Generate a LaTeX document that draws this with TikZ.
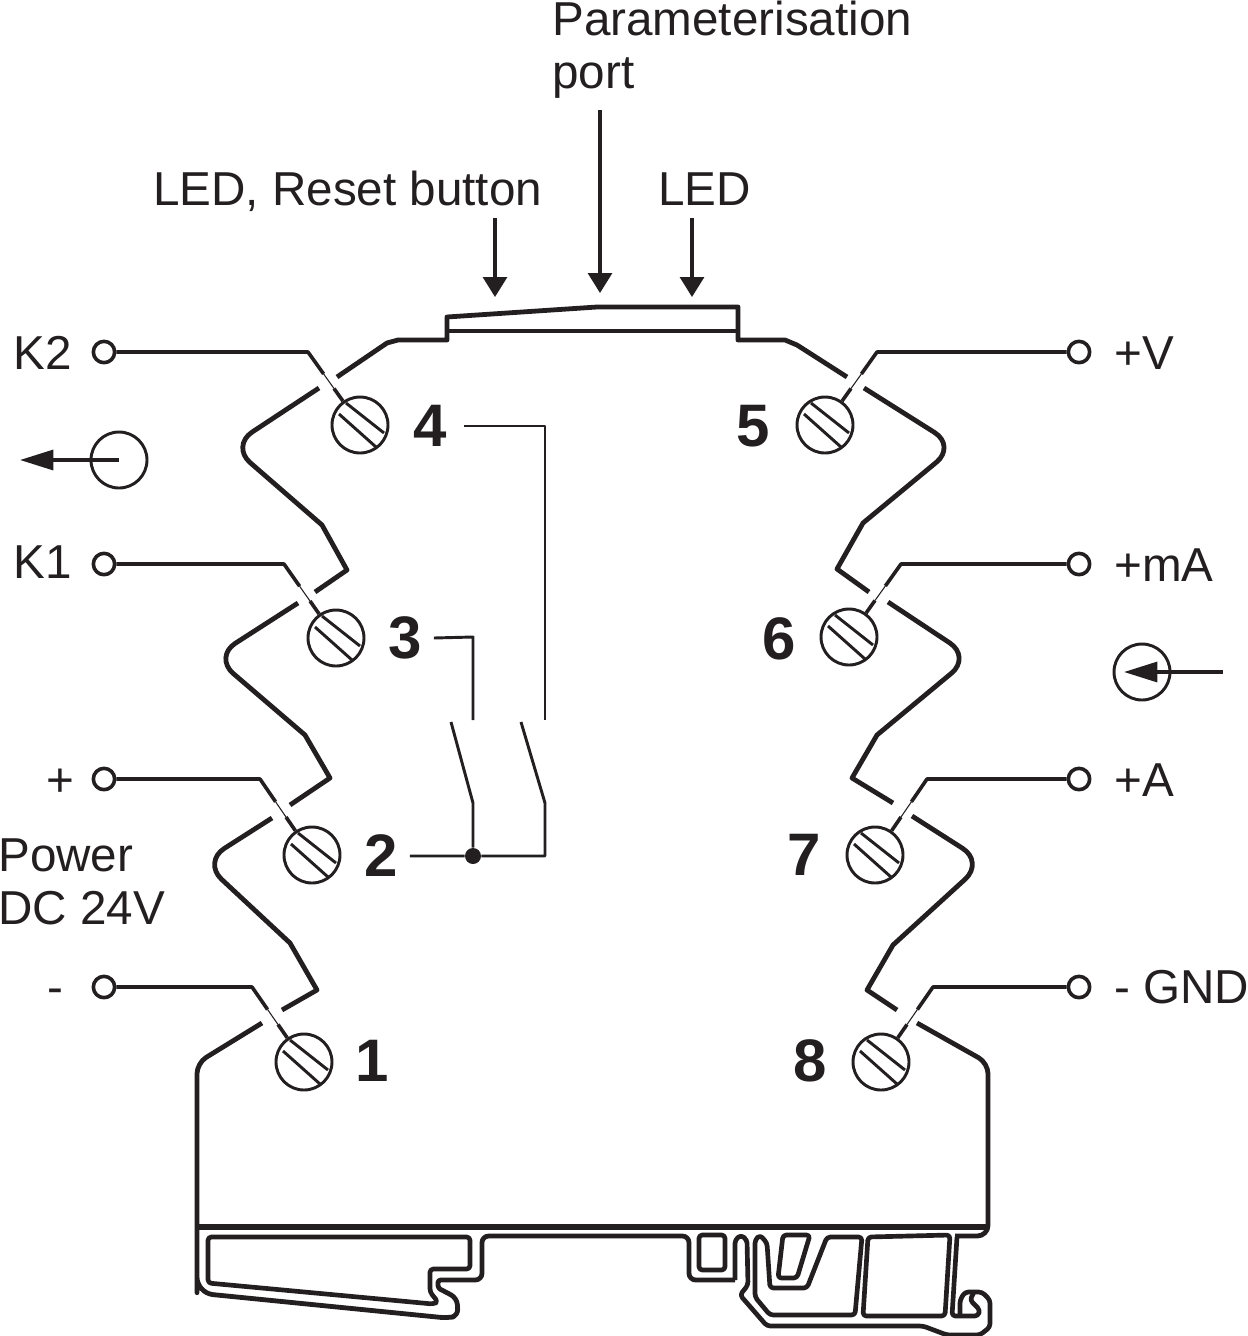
\documentclass[tikz,border=0pt]{standalone}
\usepackage{fontspec}
\setmainfont{Liberation Sans}
\usetikzlibrary{arrows.meta, calc}
\definecolor{PlotBlack}{RGB}{35,31,32}

\begin{document}
\begin{tikzpicture}[x=0.75pt, y=-0.75pt, color=PlotBlack, line join=round]
  \tikzstyle{housing} = [line width=3.6pt]
  \tikzstyle{base} = [line width=3.5pt, rounded corners=2.5pt]
  \tikzstyle{wire} = [line width=2.7pt]
  \tikzstyle{hair} = [line width=0.8pt]
  \tikzstyle{circuit} = [line width=2.2pt]
  \tikzstyle{terminal} = [circle, draw, line width=2.7pt, minimum size=16pt, inner sep=0pt]
  \tikzstyle{screw} = [circle, draw, line width=2.2pt, minimum size=42pt, inner sep=0pt]
  \tikzstyle{badge} = [circle, draw, line width=2.2pt, minimum size=42pt, inner sep=0pt]
  \tikzstyle{label} = [anchor=base west, inner sep=0pt, font=\fontsize{35.7}{42}\selectfont]
  \tikzstyle{number} = [inner sep=9pt, font=\fontsize{45}{50}\selectfont\bfseries]
  \tikzstyle{pointer} = [line width=2.4pt, -{Triangle[length=15pt, width=18pt]}]
  \tikzstyle{flow} = [line width=2.4pt, -{Triangle[length=25pt, width=15pt]}]

  \useasboundingbox (0,0) rectangle (1247,1336);

  % terminals, screws and the wires between them
  \foreach \name/\tx/\ty/\sx/\sy/\side in {
      K2/104/352/360/425/-1, K1/104/564/336/638/-1, P/104/779/312/855/-1, M/104/987/304/1062/-1,
      V/1079/352/825/425/1, mA/1079/564/849/637/1, A/1079/779/875/855/1, G/1079/987/881/1062/1} {
    \node[terminal] (t\name) at (\tx,\ty) {};
    \node[screw] (s\name) at (\sx,\sy) {};
    \coordinate (b\name) at ({\sx+\side*52},\ty);
    \draw[wire] (t\name) -- (b\name) -- ($(b\name)!0.30!(s\name)$);
    \draw[hair] ($(b\name)!0.30!(s\name)$) -- ($(b\name)!0.50!(s\name)$);
    \draw[wire] ($(b\name)!0.50!(s\name)$) -- (s\name);
    \draw[circuit, shift={(s\name)}] (-14,-22) -- (24,8) (-21,-11) -- (16,22);
  }

  % terminal numbers
  \node[number] (n1) at (372,1061) {1};
  \node[number] (n2) at (381,856) {2};
  \node[number] (n3) at (405,638) {3};
  \node[number] (n4) at (430,426) {4};
  \node[number] (n5) at (753,426) {5};
  \node[number] (n6) at (779,639) {6};
  \node[number] (n7) at (804,855) {7};
  \node[number] (n8) at (810,1061) {8};

  % labels
  \node[label] (lParam) at (552,35) {Parameterisation};
  \node[label] (lPort) at (552,88) {port};
  \node[label] (lReset) at (153,205) {LED, Reset button};
  \node[label] (lLed) at (658,205) {LED};
  \node[label] (lK2) at (13,369) {K2};
  \node[label] (lK1) at (13,578) {K1};
  \node[label] (lP) at (46,796) {+};
  \node[label] (lPower) at (-2,871) {Power};
  \node[label] (lDc) at (-2,924) {DC 24V};
  \node[label] (lM) at (47,1003) {-};
  \node[label] (lV) at (1114,369) {+V};
  \node[label] (lmA) at (1114,581) {+mA};
  \node[label] (lA) at (1114,796) {+A};
  \node[label] (lG) at (1114,1003) {- GND};

  % arrows from the top labels
  \coordinate (aReset) at (495,297);
  \coordinate (aParam) at (600,293);
  \coordinate (aLed) at (692,297);
  \coordinate (sReset) at (495,218);
  \coordinate (sParam) at (600,110);
  \coordinate (sLed) at (692,218);
  \draw[pointer] (sReset) -- (aReset);
  \draw[pointer] (sParam) -- (aParam);
  \draw[pointer] (sLed) -- (aLed);

  % output and input symbols
  \node[badge] (cOut) at (119,460) {};
  \node[badge] (cIn) at (1142,672) {};
  \coordinate (aOut) at (20,460);
  \coordinate (aIn) at (1124,672);
  \coordinate (sIn) at (1223,672);
  \draw[flow] (cOut.center) -- (aOut);
  \draw[flow] (sIn) -- (aIn);

  % relay contacts
  \coordinate (c3) at (473,637);
  \coordinate (c4) at (545,426);
  \coordinate (o3) at (473,720);
  \coordinate (o4) at (545,720);
  \coordinate (p3) at (473,803);
  \coordinate (p4) at (545,803);
  \coordinate (q3) at (451,722);
  \coordinate (q4) at (521,722);
  \coordinate (r4) at (545,856);
  \node[circle, fill, minimum size=12pt, inner sep=0pt] (junction) at (473,856) {};
  \draw[circuit] (n3.east) -- (c3) -- (o3);
  \draw[circuit, shorten <=4pt] (n4.east) -- (c4) -- (o4);
  \draw[circuit] (q3) -- (p3) -- (junction);
  \draw[circuit] (q4) -- (p4) -- (r4) -- (junction) -- (n2.east);

  % housing, top
  \draw[housing] (337,377) -- (387,343) -- (398,340) -- (447,340) -- (447,317)
    -- (597,307) -- (738,307) -- (738,340) -- (785,340) -- (797,345) -- (847,377);
  \draw[housing] (447,331) -- (738,331);
  % housing, left
  \draw[housing] (319,388) [rounded corners=19pt] -- (231,446) [sharp corners] -- (322,525) -- (347,570) -- (315,592);
  \draw[housing] (298,603) [rounded corners=19pt] -- (214,657) [sharp corners] -- (305,735) -- (330,778) -- (290,805);
  \draw[housing] (272,818) [rounded corners=19pt] -- (203,862) [sharp corners] -- (290,943) -- (317,990) -- (282,1010);
  % housing, right
  \draw[housing] (864,388) [rounded corners=19pt] -- (956,446) [sharp corners] -- (863,523) -- (837,569) -- (869,592);
  \draw[housing] (888,602) [rounded corners=19pt] -- (971,657) [sharp corners] -- (877,735) -- (852,778) -- (893,803);
  \draw[housing] (912,816) [rounded corners=19pt] -- (984,862) [sharp corners] -- (893,945) -- (867,990) -- (897,1010);

  % rail foot
  \draw[housing, rounded corners=8pt] (262,1023) -- (197,1063) -- (197,1282) [rounded corners=12pt] -- (197,1293)
    [rounded corners=5pt] -- (447,1318) -- (458,1316) -- (457,1298) [rounded corners=2pt] -- (438,1288) -- (438,1280)
    [rounded corners=5pt] -- (482,1280) -- (482,1236) -- (689,1236) -- (689,1280) -- (735,1280);
  \draw[housing, rounded corners=8pt] (917,1023) -- (988,1063) -- (988,1236) [rounded corners=2pt] -- (955,1236);
  \draw[line width=3.8pt] (197,1227) -- (988,1227);
  \draw[base] (208,1237) -- (470,1237) -- (470,1269) -- (430,1269) -- (430,1292) -- (438,1302) -- (433,1304) -- (208,1283) -- cycle;
  \draw[base] (699,1235) -- (725,1235) -- (725,1270) -- (699,1270) -- cycle;
  \draw[base] (735,1280) -- (735,1240) -- (741,1235) -- (747,1240) -- (748,1285) -- (740,1295) -- (767,1326)
    -- (923,1326) -- (947,1335) -- (980,1335) -- (990,1327) -- (990,1300) -- (982,1292) -- (965,1292) -- (960,1300)
    -- (960,1316);
  \draw[base] (755,1240) -- (760,1235) -- (767,1243) -- (770,1288) -- (807,1288) -- (827,1237) -- (862,1237)
    -- (855,1315) -- (770,1315) -- (755,1297) -- cycle;
  \draw[base] (783,1235) -- (810,1235) -- (797,1278) -- (778,1278) -- cycle;
  \draw[base] (868,1237) -- (950,1235) -- (945,1316) -- (863,1316) -- cycle;
  \draw[base] (957,1237) -- (952,1316) -- (978,1316) -- (980,1310) -- (970,1300) -- (974,1292);
\end{tikzpicture}
\end{document}
